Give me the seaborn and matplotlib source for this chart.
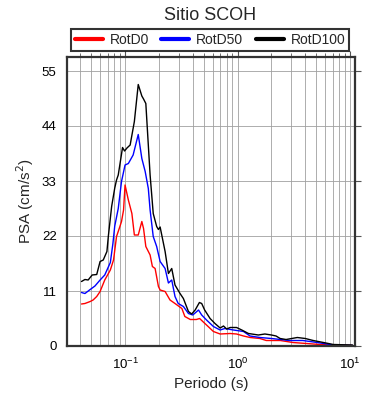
import numpy as np
import pandas as pd
import matplotlib
matplotlib.use('Agg')
import matplotlib.pyplot as plt
import matplotlib.ticker as mticker
import seaborn as sns

# --- datos ---
per_d0 = [0.041, 0.044, 0.049, 0.052, 0.056, 0.060, 0.066, 0.074, 0.079, 0.084, 0.090,
          0.093, 0.097, 0.100, 0.107, 0.115, 0.121, 0.131, 0.141, 0.146, 0.153, 0.167,
          0.175, 0.185, 0.198, 0.205, 0.227, 0.251, 0.278, 0.32, 0.34, 0.38, 0.43, 0.46,
          0.53, 0.61, 0.70, 0.86, 0.98, 1.13, 1.29, 1.58, 1.8, 2.4, 3.1, 4.1, 5.4, 7.1, 10.5]
psa_d0 = [8.4, 8.5, 8.9, 9.2, 9.9, 10.9, 13.2, 15.2, 17.2, 21.9, 23.9,
          24.9, 27.2, 32.2, 29.2, 26.5, 22.2, 22.2, 24.9, 23.5, 19.9, 18.2,
          15.9, 15.5, 11.9, 11.2, 10.9, 9.2, 8.5, 7.5, 5.9, 5.3, 5.3, 5.5,
          4.2, 2.9, 2.4, 2.5, 2.4, 2.0, 1.7, 1.5, 1.1, 1.1, 0.7, 0.5, 0.3, 0.2, 0.1]

per_d50 = [0.041, 0.044, 0.049, 0.054, 0.060, 0.066, 0.074, 0.078, 0.081, 0.087, 0.093,
           0.100, 0.107, 0.118, 0.131, 0.141, 0.151, 0.161, 0.167, 0.178, 0.191, 0.205,
           0.227, 0.243, 0.26, 0.278, 0.297, 0.33, 0.366, 0.40, 0.45, 0.48, 0.53, 0.61,
           0.70, 0.77, 0.92, 1.13, 1.29, 1.58, 2.0, 2.9, 3.8, 5.1, 7.1, 10.5]
psa_d50 = [10.7, 10.5, 11.3, 12.0, 13.2, 14.2, 16.7, 20.5, 24.0, 27.5, 32.9,
           36.2, 36.5, 38.2, 42.3, 37.5, 34.9, 31.5, 27.2, 21.9, 19.9, 16.9,
           15.5, 12.6, 13.2, 9.9, 8.5, 7.9, 6.5, 6.2, 7.2, 6.2, 5.2, 3.9,
           3.2, 3.5, 3.2, 2.9, 2.0, 1.7, 1.5, 1.1, 1.1, 0.7, 0.2, 0.1]

per_d100 = [0.041, 0.044, 0.047, 0.051, 0.056, 0.060, 0.064, 0.069, 0.071, 0.076, 0.081,
            0.084, 0.087, 0.095, 0.099, 0.104, 0.111, 0.121, 0.131, 0.141, 0.146, 0.153,
            0.167, 0.178, 0.191, 0.198, 0.205, 0.227, 0.243, 0.26, 0.278, 0.308, 0.33,
            0.366, 0.391, 0.42, 0.458, 0.48, 0.51, 0.57, 0.63, 0.70, 0.75, 0.80, 0.86,
            0.98, 1.09, 1.25, 1.53, 1.75, 2.0, 2.2, 2.39, 2.7, 3.4, 4.0, 4.7, 5.8, 7.1, 10.5]
psa_d100 = [12.9, 13.3, 13.2, 14.2, 14.3, 16.9, 17.2, 18.9, 21.9, 27.9, 31.6,
            33.2, 34.2, 39.7, 39.0, 39.6, 40.2, 44.9, 52.3, 50.0, 49.4, 48.5,
            34.2, 26.5, 23.9, 23.3, 23.8, 18.9, 14.5, 15.5, 12.2, 10.5, 9.5,
            6.9, 6.4, 7.2, 8.7, 8.5, 7.2, 5.5, 4.5, 3.6, 4.0, 3.4, 3.7,
            3.7, 3.2, 2.5, 2.2, 2.4, 2.2, 2.0, 1.5, 1.3, 1.7, 1.5, 1.1, 0.7, 0.3, 0.2]

series = ['RotD0', 'RotD50', 'RotD100']
colores = ['red', 'blue', 'black']
yticks = [0, 11, 22, 33, 44, 55]

df = pd.concat([
    pd.DataFrame({'Periodo': per_d0, 'PSA': psa_d0, 'serie': 'RotD0'}),
    pd.DataFrame({'Periodo': per_d50, 'PSA': psa_d50, 'serie': 'RotD50'}),
    pd.DataFrame({'Periodo': per_d100, 'PSA': psa_d100, 'serie': 'RotD100'}),
], ignore_index=True)

sns.set_style('white')
plt.rcParams['font.family'] = ['Liberation Sans', 'DejaVu Sans']

fig = plt.figure(figsize=(3.9, 4.0), dpi=100)
ax = fig.add_axes([67 / 390, 1 - 346 / 400, 288 / 390, 289 / 400])

sns.lineplot(data=df, x='Periodo', y='PSA', hue='serie', hue_order=series,
             palette=dict(zip(series, colores)), sort=False, estimator=None,
             linewidth=1.0, ax=ax, legend=False)

ax.set_xscale('log')
ax.set_xlim(10 ** -1.516, 10 ** 1.044)
ax.set_ylim(0, 57.8)
ax.set_yticks(yticks)
ax.xaxis.set_major_locator(mticker.LogLocator(base=10, numticks=10))
ax.xaxis.set_minor_locator(mticker.LogLocator(base=10, subs=np.arange(2, 10), numticks=20))
ax.xaxis.set_minor_formatter(mticker.NullFormatter())

ax.grid(True, which='major', axis='both', color='#a0a0a0', linewidth=0.6)
ax.grid(True, which='minor', axis='x', color='#a0a0a0', linewidth=0.6)
ax.set_axisbelow(True)

ax.tick_params(axis='both', which='both', direction='out', colors='#555555',
               labelcolor='black', labelsize=9.5, top=True, right=True)
ax.tick_params(axis='both', which='major', length=4, width=0.8)
ax.tick_params(axis='x', which='minor', length=3, width=0.6)
for s in ax.spines.values():
    s.set_color('#333333')
    s.set_linewidth(1.6)

ax.set_xlabel('Periodo (s)', fontsize=11)
ax.set_ylabel('PSA (cm/s$^2$)', fontsize=11, labelpad=4)

fig.text(210 / 390, 1 - 15 / 400, 'Sitio SCOH', ha='center', va='center', fontsize=13)

handles = [plt.Line2D([], [], color=c, linewidth=3) for c in colores]
leg = fig.legend(handles, series, loc='center', ncol=3,
                 bbox_to_anchor=(210 / 390, 1 - 40 / 400),
                 fontsize=10, frameon=True, fancybox=False, handlelength=2.0,
                 handletextpad=0.5, borderpad=0.3, columnspacing=0.9)
leg.get_frame().set_edgecolor('black')
leg.get_frame().set_linewidth(1.5)

fig.savefig('out.png', dpi=100)
